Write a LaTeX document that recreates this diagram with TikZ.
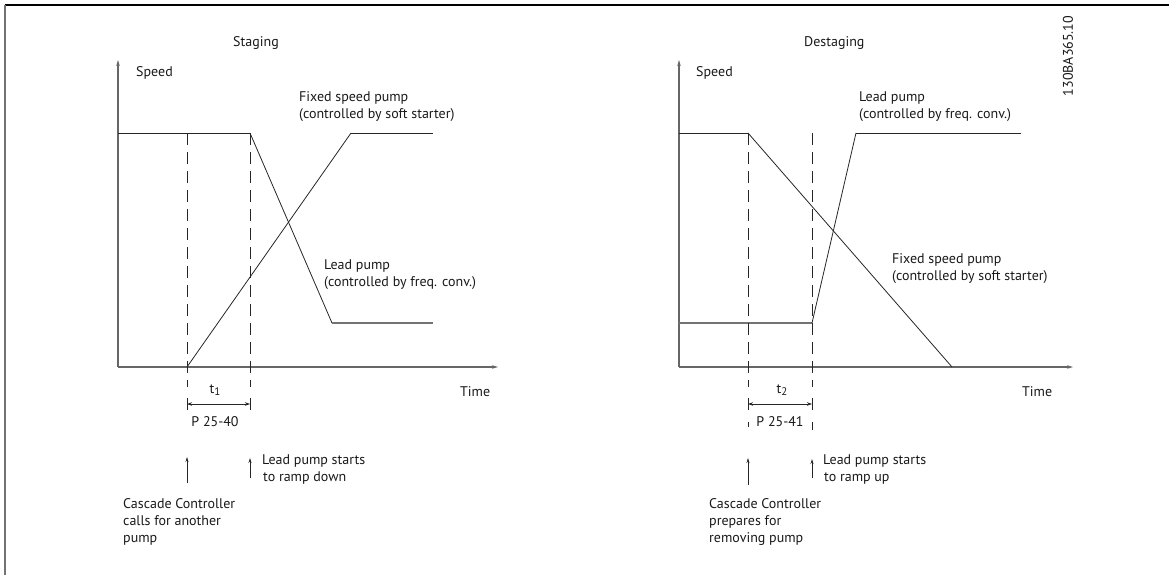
\documentclass[tikz,border=0pt]{standalone}
\usepackage{fontspec}
\setmainfont{PT Sans}
\usetikzlibrary{arrows.meta}
\newcommand{\mysub}[1]{\raisebox{-2.5pt}{\fontsize{11}{11}\selectfont #1}}
\begin{document}
\begin{tikzpicture}[x=1pt,y=-1pt,
  lbl/.style={inner sep=0pt, font=\fontsize{14}{17}\selectfont, text=black!90, align=left},
  axisline/.style={draw=black!60, line width=1.1pt, -{Stealth[length=6pt,width=3.5pt]}},
  curve/.style={draw=black!85, line width=0.8pt},
  topline/.style={draw=black!85, line width=0.9pt},
  lowline/.style={draw=black!55, line width=1.1pt},
  dashline/.style={draw=black!85, line width=0.8pt, dash pattern=on 12pt off 7pt},
  tick/.style={draw=black!85, line width=0.8pt},
  dimarrow/.style={draw=black!85, line width=0.8pt, {Stealth[length=5pt,width=3.5pt]}-{Stealth[length=5pt,width=3.5pt]}},
  uparrow/.style={draw=black!85, line width=0.8pt, -{Stealth[length=5pt,width=3pt]}}
]
\useasboundingbox (0,0) rectangle (1169,575);
% frame
\coordinate (fTL) at (4.5,5);
\coordinate (fTR) at (1169,5);
\coordinate (fBL) at (4.5,575);
\draw[black, line width=2pt] (fTL) -- (fTR);
\draw[black!55, line width=2pt] (fTL) -- (fBL);

% ===== Left chart: Staging =====
\coordinate (O1) at (118,367);
\coordinate (Y1) at (118,60);
\coordinate (X1) at (498,367);
\draw[axisline] (O1) -- (Y1);
\draw[axisline] (O1) -- (X1);
% lead pump
\coordinate (A1) at (118,133);
\coordinate (B1) at (250,133);
\coordinate (C1) at (332,323);
\coordinate (D1) at (433,323);
\draw[topline] (A1) -- (B1);
\draw[curve] (B1) -- (C1);
\draw[lowline] (C1) -- (D1);
% fixed speed pump
\coordinate (E1) at (187,367);
\coordinate (F1) at (351,133);
\coordinate (G1) at (433,133);
\draw[curve] (E1) -- (F1);
\draw[topline] (F1) -- (G1);
% dashed
\coordinate (da1) at (187,133);
\coordinate (da1e) at (187,387);
\coordinate (db1) at (250,133);
\coordinate (db1e) at (250,387);
\draw[dashline] (da1) -- (da1e);
\draw[dashline] (db1) -- (db1e);
% dimension
\coordinate (ta1) at (187,398);
\coordinate (ta1e) at (187,410);
\coordinate (tb1) at (250,398);
\coordinate (tb1e) at (250,410);
\draw[tick] (ta1) -- (ta1e);
\draw[tick] (tb1) -- (tb1e);
\coordinate (dl1) at (187,404);
\coordinate (dr1) at (250,404);
\draw[dimarrow] (dl1) -- (dr1);
% up arrows
\coordinate (ua1) at (187,483);
\coordinate (ua1e) at (187,457);
\coordinate (ub1) at (250,478);
\coordinate (ub1e) at (250,458);
\draw[uparrow] (ua1) -- (ua1e);
\draw[uparrow] (ub1) -- (ub1e);
% labels
\node[lbl, anchor=west] (staging) at (233,43) {Staging};
\node[lbl, anchor=west] (speed1) at (136,73) {Speed};
\node[lbl, anchor=west] (fix1) at (299,106.5) {Fixed speed pump\\(controlled by soft starter)};
\node[lbl, anchor=west] (lead1) at (324,274.5) {Lead pump\\(controlled by freq. conv.)};
\node[lbl, anchor=west] (time1) at (460,392) {Time};
\node[lbl] (t1) at (215,390) {t\mysub{1}};
\node[lbl] (p1) at (215,422) {P 25-40};
\node[lbl, anchor=west] (ls1) at (262,469.5) {Lead pump starts\\\hspace*{1pt}to ramp down};
\node[lbl, anchor=west] (cc1) at (123,521.5) {Cascade Controller\\calls for another\\pump};

% ===== Right chart: Destaging =====
\coordinate (O2) at (679,367);
\coordinate (Y2) at (679,60);
\coordinate (X2) at (1073,367);
\draw[axisline] (O2) -- (Y2);
\draw[axisline] (O2) -- (X2);
% fixed speed pump
\coordinate (A2) at (679,133);
\coordinate (B2) at (748,133);
\coordinate (C2) at (952,367);
\draw[topline] (A2) -- (B2);
\draw[curve] (B2) -- (C2);
% lead pump
\coordinate (E2) at (679,323);
\coordinate (F2) at (812,323);
\coordinate (G2) at (856,133);
\coordinate (H2) at (1021,133);
\draw[lowline] (E2) -- (F2);
\draw[curve] (F2) -- (G2);
\draw[topline] (G2) -- (H2);
% dashed
\coordinate (da2) at (748,133);
\coordinate (da2e) at (748,387);
\coordinate (db2) at (812,133);
\coordinate (db2e) at (812,387);
\draw[dashline] (da2) -- (da2e);
\draw[dashline] (db2) -- (db2e);
% dimension
\coordinate (ta2) at (748,398);
\coordinate (ta2e) at (748,410);
\coordinate (tb2) at (812,398);
\coordinate (tb2e) at (812,410);
\draw[tick] (ta2) -- (ta2e);
\draw[tick] (tb2) -- (tb2e);
\coordinate (tc2) at (748,422);
\coordinate (tc2e) at (748,427);
\coordinate (td2) at (812,422);
\coordinate (td2e) at (812,430);
\draw[tick] (tc2) -- (tc2e);
\draw[tick] (td2) -- (td2e);
\coordinate (dl2) at (748,404);
\coordinate (dr2) at (812,404);
\draw[dimarrow] (dl2) -- (dr2);
% up arrows
\coordinate (ua2) at (748,485);
\coordinate (ua2e) at (748,458);
\coordinate (ub2) at (812,478);
\coordinate (ub2e) at (812,459);
\draw[uparrow] (ua2) -- (ua2e);
\draw[uparrow] (ub2) -- (ub2e);
% labels
\node[lbl, anchor=west] (destaging) at (804,43) {Destaging};
\node[lbl, anchor=west] (speed2) at (696,73) {Speed};
\node[lbl, anchor=west] (lead2) at (859,106.5) {Lead pump\\(controlled by freq. conv.)};
\node[lbl, anchor=west] (fix2) at (892,268.5) {Fixed speed pump\\(controlled by soft starter)};
\node[lbl, anchor=west] (time2) at (1022,392) {Time};
\node[lbl] (t2) at (782,390) {t\mysub{2}};
\node[lbl] (p2) at (780,422) {P 25-41};
\node[lbl, anchor=west] (ls2) at (823,469.5) {Lead pump starts\\\hspace*{1pt}to ramp up};
\node[lbl, anchor=west] (cc2) at (709,521.5) {Cascade Controller\\prepares for\\removing pump};

\node[lbl, rotate=90] (docid) at (1068,56) {130BA365.10};
\end{tikzpicture}
\end{document}
